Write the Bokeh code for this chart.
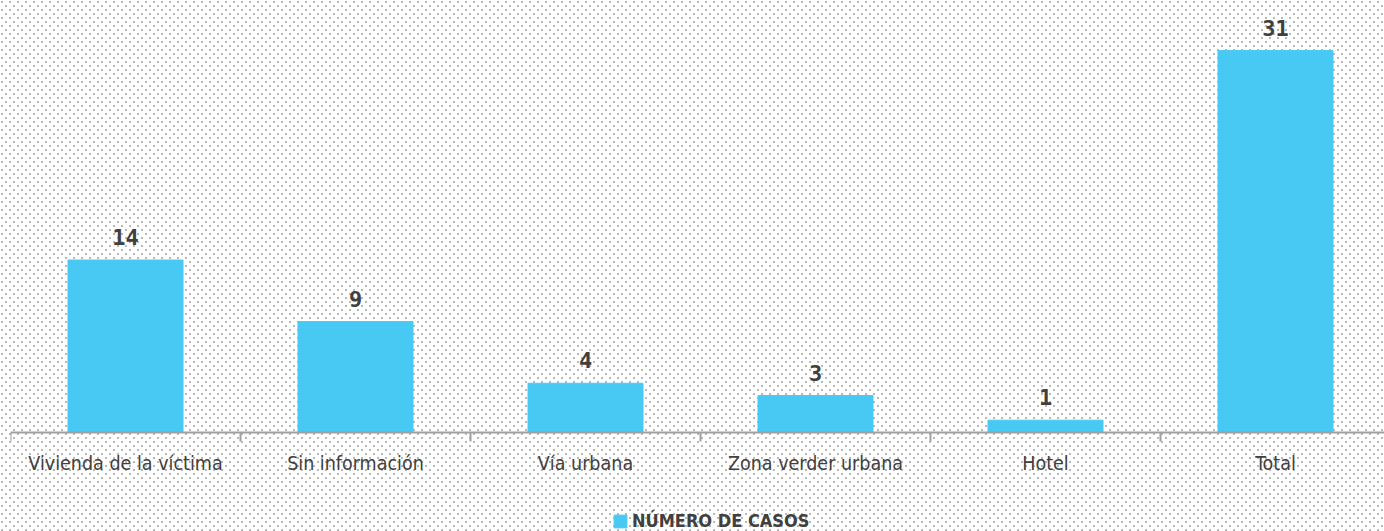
from bokeh.plotting import figure
from bokeh.models import ColumnDataSource, Range1d, FixedTicker, Legend, LegendItem
from bokeh.embed import file_html
from bokeh.resources import INLINE
from bokeh.core.properties import value

categories = ["Vivienda de la víctima", "Sin información", "Vía urbana",
              "Zona verder urbana", "Hotel", "Total"]
casos = [14, 9, 4, 3, 1, 31]
series_name = "NÚMERO DE CASOS"

BAR = "#48C9F4"
TXT = "#404040"
AX = "#a0a0a0"
FONT = "DejaVu Sans Condensed"
PX_PER_UNIT = 12.32

xs = [i + 0.5 for i in range(len(categories))]
src = ColumnDataSource(dict(x=xs, top=casos, lbl=[str(v) for v in casos]))

dots = ("url(\"data:image/svg+xml;utf8,<svg xmlns='http://www.w3.org/2000/svg' width='8' height='8'>"
        "<rect x='1' y='1' width='2' height='2' fill='%23b8b8b8'/>"
        "<rect x='5' y='5' width='2' height='2' fill='%23b8b8b8'/></svg>\")")

p = figure(frame_width=1374, frame_height=531, output_backend="svg", toolbar_location=None,
           x_range=Range1d(0, 1374 / 230),
           y_range=Range1d(-99 / PX_PER_UNIT, 432 / PX_PER_UNIT),
           min_border_left=10, min_border_right=0, min_border_top=0, min_border_bottom=0,
           y_axis_location=None)
p.styles = {"background-image": dots}
p.background_fill_color = None
p.border_fill_color = None
p.outline_line_color = None
p.xgrid.visible = False
p.ygrid.visible = False

r = p.vbar(x="x", top="top", bottom=0, width=0.5, color=BAR, source=src)

p.text(x="x", y="top", text="lbl", source=src, text_align="center",
       text_baseline="bottom", y_offset=-15,
       text_font=value("DejaVu Sans Mono"), text_font_style="bold",
       text_font_size="22px", text_color=TXT)

ax = p.xaxis[0]
ax.fixed_location = 0
ax.ticker = FixedTicker(ticks=xs, minor_ticks=list(range(len(categories) + 1)))
ax.major_label_overrides = {x: c for x, c in zip(xs, categories)}
ax.axis_line_color = AX
ax.axis_line_width = 2
ax.major_tick_line_color = None
ax.major_tick_in = 0
ax.major_tick_out = 0
ax.minor_tick_line_color = AX
ax.minor_tick_line_width = 2
ax.minor_tick_in = 0
ax.minor_tick_out = 9
ax.major_label_standoff = 10
ax.major_label_text_font = FONT
ax.major_label_text_font_size = "19.5px"
ax.major_label_text_color = TXT

legend = Legend(items=[LegendItem(label=series_name, renderers=[r])],
                location=(602, 0), orientation="horizontal",
                glyph_width=16, glyph_height=16,
                label_text_font=FONT, label_text_font_style="bold",
                label_text_font_size="18px", label_text_color=TXT,
                background_fill_alpha=0, border_line_color=None,
                padding=0, margin=0, spacing=0, label_standoff=4)
p.add_layout(legend)

open("out.html", "w").write(file_html(p, INLINE))
